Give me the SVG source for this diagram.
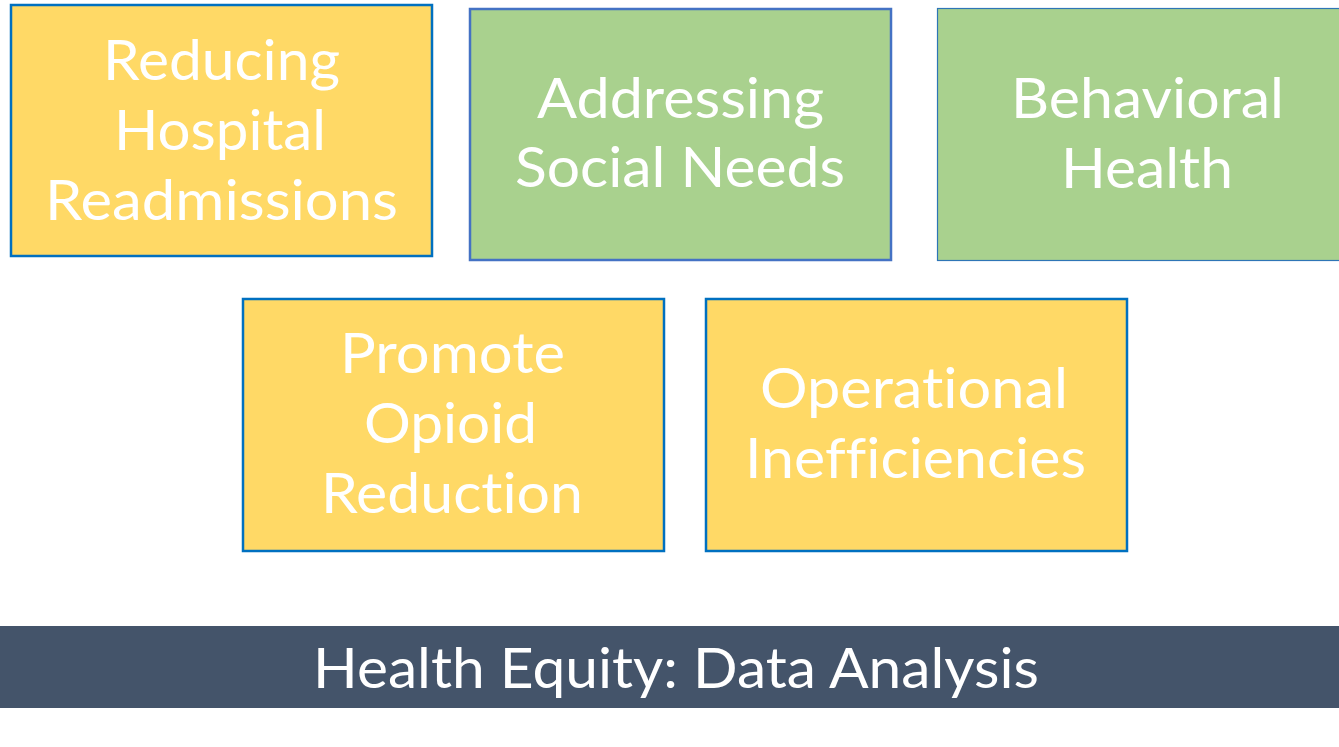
<svg xmlns="http://www.w3.org/2000/svg" width="1339" height="747" viewBox="0 0 1339 747">
<style>
.y{fill:#FFD966;stroke:#0070C0;stroke-width:2.5}
.g{fill:#A9D18E;stroke:#4472C4;stroke-width:2.5}
.g3{fill:#A9D18E;stroke:#2E75B6;stroke-width:1.2}
.t{font-family:Lato,"Open Sans","Liberation Sans",sans-serif;font-size:57px;fill:#FFFFFF;font-variant-ligatures:none;font-feature-settings:"liga" 0,"clig" 0}
</style>
<rect width="1339" height="747" fill="#FFFFFF"/>
<g id="node-readmissions">
<rect class="y" x="11" y="5" width="421" height="251"/>
<text class="t" x="103" y="80" textLength="237" lengthAdjust="spacingAndGlyphs">Reducing</text>
<text class="t" x="114" y="150" textLength="212" lengthAdjust="spacingAndGlyphs">Hospital</text>
<text class="t" x="45" y="220" textLength="353" lengthAdjust="spacingAndGlyphs">Readmissions</text>
</g>
<g id="node-social">
<rect class="g" x="470" y="9" width="421" height="251"/>
<text class="t" x="537" y="118" textLength="287" lengthAdjust="spacingAndGlyphs">Addressing</text>
<text class="t" x="515" y="187" textLength="330" lengthAdjust="spacingAndGlyphs">Social Needs</text>
</g>
<g id="node-behavioral">
<rect class="g3" x="937.5" y="8.5" width="410" height="252"/>
<text class="t" x="1011" y="118" textLength="273" lengthAdjust="spacingAndGlyphs">Behavioral</text>
<text class="t" x="1061" y="188" textLength="172" lengthAdjust="spacingAndGlyphs">Health</text>
</g>
<g id="node-opioid">
<rect class="y" x="243" y="299" width="421" height="252"/>
<text class="t" x="340" y="373" textLength="225" lengthAdjust="spacingAndGlyphs">Promote</text>
<text class="t" x="364" y="443" textLength="173" lengthAdjust="spacingAndGlyphs">Opioid</text>
<text class="t" x="321" y="513" textLength="262" lengthAdjust="spacingAndGlyphs">Reduction</text>
</g>
<g id="node-operational">
<rect class="y" x="706" y="299" width="421" height="252"/>
<text class="t" x="760" y="408" textLength="308" lengthAdjust="spacingAndGlyphs">Operational</text>
<text class="t" x="745" y="478" textLength="341" lengthAdjust="spacingAndGlyphs">Inefficiencies</text>
</g>
<g id="connectors"></g>
<g id="banner">
<rect x="0" y="626" width="1339" height="82" fill="#44546A"/>
<text class="t" x="313" y="688" textLength="726" lengthAdjust="spacingAndGlyphs">Health Equity: Data Analysis</text>
</g>
</svg>
